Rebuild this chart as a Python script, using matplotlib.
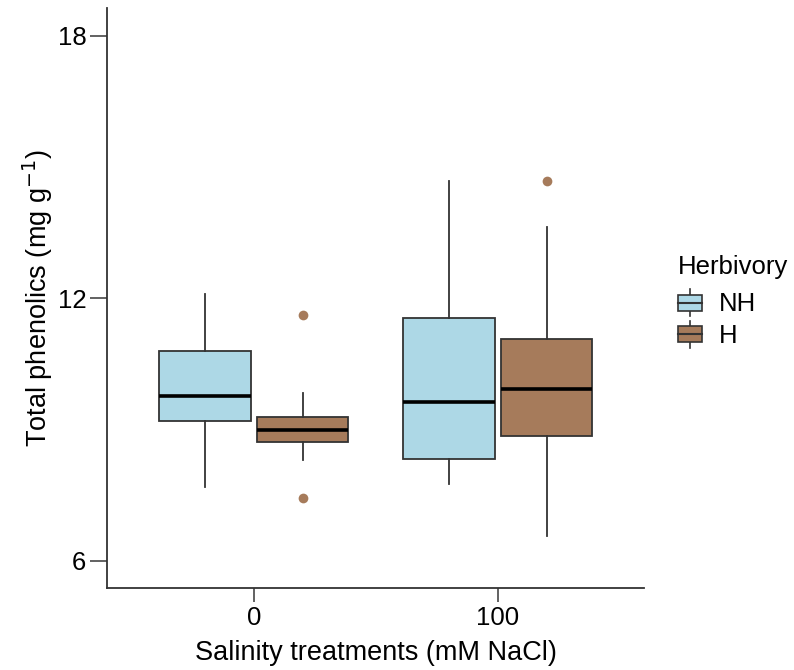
import matplotlib
matplotlib.use("Agg")
import matplotlib.pyplot as plt
from matplotlib.patches import Rectangle
from matplotlib.lines import Line2D
from matplotlib.legend_handler import HandlerBase

plt.rcParams['font.family'] = ['Liberation Sans', 'DejaVu Sans']

# ---- data ----
salinity = ["0", "100"]
herbivory = ["NH", "H"]
colors = {"NH": "#ADD8E6", "H": "#A67B5B"}

whislo = {"NH": [7.69, 7.75], "H": [8.30, 6.57]}
q1 = {"NH": [9.19, 8.32], "H": [8.72, 8.85]}
med = {"NH": [9.76, 9.62], "H": [8.99, 9.92]}
q3 = {"NH": [10.80, 11.55], "H": [9.28, 11.07]}
whishi = {"NH": [12.11, 14.69], "H": [9.84, 13.63]}
fliers = {"NH": [[], []], "H": [[11.62, 7.43], [14.68]]}

yticks = [6, 12, 18]

fig = plt.figure(figsize=(7.94, 6.70), dpi=100)
ax = fig.add_axes([0.1351, 0.1219, 0.8115 - 0.1351, 0.9876 - 0.1219])

offsets = {"NH": -0.2, "H": 0.2}
width = 0.375
edge = "#333333"
for h in herbivory:
    stats = []
    for i in range(len(salinity)):
        stats.append(dict(med=med[h][i], q1=q1[h][i], q3=q3[h][i],
                          whislo=whislo[h][i], whishi=whishi[h][i],
                          fliers=fliers[h][i]))
    pos = [i + offsets[h] for i in range(len(salinity))]
    ax.bxp(stats, positions=pos, widths=width, patch_artist=True,
           showcaps=False, manage_ticks=False,
           boxprops=dict(facecolor=colors[h], edgecolor=edge, linewidth=1.3),
           whiskerprops=dict(color=edge, linewidth=1.3),
           medianprops=dict(color="black", linewidth=2.6, solid_capstyle="butt"),
           flierprops=dict(marker="o", markerfacecolor=colors[h],
                           markeredgecolor="none", markersize=7))

ax.set_xlim(-0.6, 1.6)
ax.set_ylim(5.37, 18.63)
ax.set_xticks(range(len(salinity)))
ax.set_xticklabels(salinity)
ax.set_yticks(yticks)
ax.set_yticklabels([str(t) for t in yticks])
for s in ["top", "right"]:
    ax.spines[s].set_visible(False)
for s in ["left", "bottom"]:
    ax.spines[s].set_color("#333333")
    ax.spines[s].set_linewidth(1.3)
ax.tick_params(axis="y", length=12, width=1.3, color="#555555", labelsize=18.5, pad=3, labelcolor="black")
ax.tick_params(axis="x", length=10, width=1.3, color="#555555", labelsize=18.5, pad=3, labelcolor="black")

ax.set_xlabel("Salinity treatments (mM NaCl)", fontsize=19.5, labelpad=7)
ax.set_ylabel(r"Total phenolics (mg g$^{-1}$)", fontsize=19.5, labelpad=2)


class BoxHandler(HandlerBase):
    def create_artists(self, legend, orig_handle, xdescent, ydescent,
                       width, height, fontsize, trans):
        fc = orig_handle.get_facecolor()
        bw = width
        bh = height * 0.85
        x0 = -xdescent
        y0 = -ydescent + (height - bh) / 2
        rect = Rectangle((x0, y0), bw, bh, facecolor=fc, edgecolor=edge,
                         linewidth=1.2, transform=trans)
        mline = Line2D([x0, x0 + bw], [y0 + bh / 2, y0 + bh / 2],
                       color=edge, linewidth=1.5, transform=trans)
        cx = x0 + bw / 2
        w1 = Line2D([cx, cx], [y0 + bh, y0 + bh + height * 0.3],
                    color=edge, linewidth=1.2, transform=trans)
        w2 = Line2D([cx, cx], [y0, y0 - height * 0.3],
                    color=edge, linewidth=1.2, transform=trans)
        return [w1, w2, rect, mline]


handles = [Rectangle((0, 0), 1, 1, facecolor=colors[h]) for h in herbivory]
leg = fig.legend(handles, herbivory, handler_map={Rectangle: BoxHandler()},
                 loc="upper left", bbox_to_anchor=(0.854, 0.619),
                 frameon=False, title="Herbivory", fontsize=18.5,
                 title_fontsize=18.5, handlelength=0.95, handleheight=0.75,
                 handletextpad=0.65, labelspacing=0.3, borderpad=0.0,
                 borderaxespad=0.0)
leg._legend_box.align = "left"
leg._legend_box.sep = 9.5

fig.savefig("out.png", dpi=100)
